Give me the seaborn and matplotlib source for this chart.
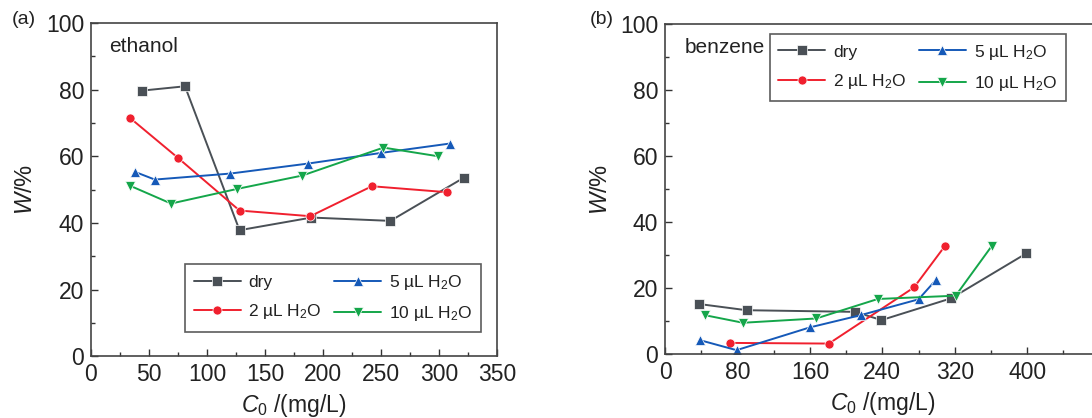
# -*- coding: UTF-8 -*-
import matplotlib
matplotlib.use("Agg")
import matplotlib.pyplot as plt
import numpy as np
import pandas as pd
import seaborn as sns

# ---- data ----
conds = ["dry", "2 µL H$_2$O", "5 µL H$_2$O", "10 µL H$_2$O"]

# (a) ethanol
eth_dry_x = [44, 81, 128, 190, 258, 321]
eth_dry_y = [79.7, 81.0, 37.8, 41.6, 40.6, 53.5]
eth_2_x = [34, 75, 128, 189, 242, 307]
eth_2_y = [71.4, 59.5, 43.7, 42.0, 51.0, 49.2]
eth_5_x = [38, 55, 120, 187, 250, 309]
eth_5_y = [55.3, 53.0, 54.8, 57.8, 61.0, 63.8]
eth_10_x = [34, 69, 126, 182, 252, 299]
eth_10_y = [51.1, 45.8, 50.2, 54.2, 62.6, 60.0]

# (b) benzene
ben_dry_x = [37, 90, 210, 239, 316, 399]
ben_dry_y = [15.3, 13.4, 12.9, 10.4, 17.0, 30.6]
ben_2_x = [72, 181, 275, 309]
ben_2_y = [3.5, 3.3, 20.3, 32.8]
ben_5_x = [39, 79, 160, 216, 280, 299]
ben_5_y = [4.3, 1.3, 8.2, 11.9, 16.7, 22.5]
ben_10_x = [44, 86, 167, 235, 321, 361]
ben_10_y = [11.9, 9.6, 10.9, 16.8, 17.8, 32.9]

colors = ["#4a5056", "#f0202e", "#1559b8", "#14a64a"]
markers = ["s", "o", "^", "v"]


def make_df(xs, ys):
    rows = []
    for c, x, y in zip(conds, xs, ys):
        for i in range(len(x)):
            rows.append((c, x[i], y[i], i))
    return pd.DataFrame(rows, columns=["cond", "C0", "W", "i"])


df_eth = make_df([eth_dry_x, eth_2_x, eth_5_x, eth_10_x],
                 [eth_dry_y, eth_2_y, eth_5_y, eth_10_y])
df_ben = make_df([ben_dry_x, ben_2_x, ben_5_x, ben_10_x],
                 [ben_dry_y, ben_2_y, ben_5_y, ben_10_y])

sns.set_theme(style="ticks")
plt.rcParams['font.family'] = ['Liberation Sans', 'DejaVu Sans']
plt.rcParams['mathtext.fontset'] = 'custom'
plt.rcParams['mathtext.rm'] = 'Liberation Sans'
plt.rcParams['mathtext.it'] = 'Liberation Sans:italic'
plt.rcParams['text.color'] = '#222222'
plt.rcParams['axes.labelcolor'] = '#222222'
plt.rcParams['xtick.labelcolor'] = '#222222'
plt.rcParams['ytick.labelcolor'] = '#222222'

fig = plt.figure(figsize=(10.92, 4.18), dpi=100)
ax1 = fig.add_axes([0.0833, 0.148, 0.372, 0.797])
ax2 = fig.add_axes([0.609, 0.152, 0.398, 0.790])

pal = dict(zip(conds, colors))
mk = dict(zip(conds, markers))

for ax, df in [(ax1, df_eth), (ax2, df_ben)]:
    sns.lineplot(data=df, x="C0", y="W", hue="cond", style="cond",
                 hue_order=conds, style_order=conds, palette=pal,
                 markers=mk, dashes=False, sort=False, ax=ax,
                 linewidth=1.4, markersize=6.5, markeredgewidth=0.5)
    ax.set_ylim(0, 100)
    ax.set_yticks([0, 20, 40, 60, 80, 100])
    ax.set_yticks(np.arange(10, 100, 20), minor=True)
    ax.set_ylabel("$\\it{W}$/%", fontsize=17, labelpad=6)
    ax.set_xlabel("$\\it{C}_0$ /(mg/L)", fontsize=16.5, labelpad=4)
    ax.tick_params(which="both", direction="in", labelsize=16.5, color="#333333", pad=5)
    ax.tick_params(which="major", length=5, width=1)
    ax.tick_params(which="minor", length=3, width=1)
    for s in ax.spines.values():
        s.set_color("#444444")
        s.set_linewidth(1.2)
    leg = ax.get_legend()
    if leg:
        leg.remove()

ax1.set_xlim(0, 350)
ax1.set_xticks(np.arange(0, 351, 50))
ax1.set_xticks(np.arange(25, 350, 50), minor=True)
ax1.text(0.045, 0.93, "ethanol", transform=ax1.transAxes, fontsize=15, va="center")

ax2.set_xlim(0, 480)
ax2.set_xticks(np.arange(0, 401, 80))
ax2.set_xticks(np.arange(40, 480, 80), minor=True)
ax2.text(0.045, 0.93, "benzene", transform=ax2.transAxes, fontsize=15, va="center")

leg_kw = dict(ncol=2, loc="upper left", fontsize=12.5, frameon=True,
              fancybox=False, edgecolor="#333333", handlelength=2.7,
              columnspacing=0.7, labelspacing=0.7, borderpad=0.5,
              handletextpad=0.45, borderaxespad=0)
h, l = ax1.get_legend_handles_labels()
ax1.legend(h, l, bbox_to_anchor=(0.2315, 0.276), **leg_kw).get_frame().set_linewidth(1.2)
h, l = ax2.get_legend_handles_labels()
ax2.legend(h, l, bbox_to_anchor=(0.241, 0.971), **leg_kw).get_frame().set_linewidth(1.2)

fig.text(12 / 1092, 1 - 20 / 418, "(a)", fontsize=14, va="center")
fig.text(590 / 1092, 1 - 20 / 418, "(b)", fontsize=14, va="center")

fig.savefig("out.png", dpi=100)
